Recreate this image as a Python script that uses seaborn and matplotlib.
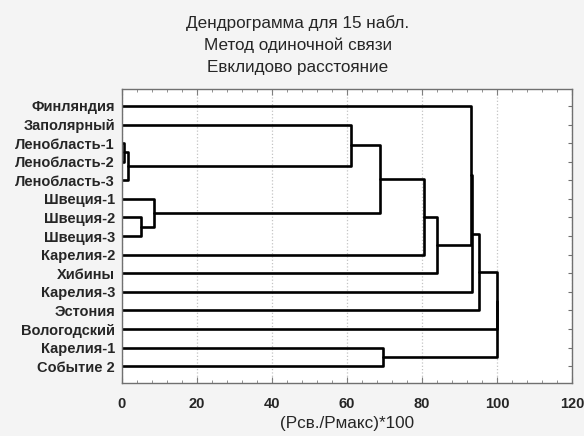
import numpy as np
import pandas as pd
import matplotlib
matplotlib.use('Agg')
import matplotlib.pyplot as plt
from matplotlib.ticker import MultipleLocator
import seaborn as sns

# leaves, top to bottom
leaf_labels = ['Финляндия', 'Заполярный', 'Ленобласть-1', 'Ленобласть-2',
               'Ленобласть-3', 'Швеция-1', 'Швеция-2', 'Швеция-3', 'Карелия-2',
               'Хибины', 'Карелия-3', 'Эстония', 'Вологодский', 'Карелия-1',
               'Событие 2']

# single linkage merges: (left node, right node, height); new nodes get ids 15, 16, ...
merge_left = [2, 15, 6, 5, 1, 19, 20, 21, 0, 23, 24, 13, 25, 27]
merge_right = [3, 4, 7, 17, 16, 18, 8, 9, 22, 10, 11, 14, 12, 26]
merge_height = [0.5, 1.7, 5.2, 8.6, 61.0, 68.8, 80.4, 83.9, 93.0, 93.4,
                95.3, 69.7, 99.9, 100.0]

x_ticks = [0, 20, 40, 60, 80, 100, 120]

sns.set_style('ticks')
plt.rcParams['font.family'] = ['Liberation Sans', 'DejaVu Sans']

# node positions -> one polyline per merge
n = len(leaf_labels)
ypos = {i: float(i) for i in range(n)}
hpos = {i: 0.0 for i in range(n)}
rows = []
for k, (a, b, h) in enumerate(zip(merge_left, merge_right, merge_height)):
    node = n + k
    pts = [(hpos[a], ypos[a]), (h, ypos[a]), (h, ypos[b]), (hpos[b], ypos[b])]
    for px, py in pts:
        rows.append({'x': px, 'y': py, 'seg': k})
    ypos[node] = (ypos[a] + ypos[b]) / 2
    hpos[node] = h
segs = pd.DataFrame(rows)

fig = plt.figure(figsize=(5.84, 4.36), dpi=100, facecolor='#f4f4f4')
ax = fig.add_axes([0.2089, 0.1216, 0.7706, 0.6743])
ax.set_facecolor('white')

sns.lineplot(data=segs, x='x', y='y', units='seg', estimator=None, sort=False,
             color='black', lw=1.9, ax=ax, legend=False)

ax.set_xlim(0, 120)
ax.set_ylim(n - 1 + 0.9, -0.91)
ax.set_xticks(x_ticks)
ax.xaxis.set_minor_locator(MultipleLocator(4))
ax.set_xticklabels([str(t) for t in x_ticks], fontweight='bold', fontsize=10.5)
ax.set_yticks(range(n))
ax.set_yticklabels(leaf_labels, fontweight='bold', fontsize=10.5)
ax.tick_params(axis='y', left=False, right=True, labelleft=True,
               direction='in', length=3, color='#707070', pad=5)
ax.tick_params(axis='x', which='both', top=True, bottom=True, direction='in',
               color='#808080', pad=10)
ax.tick_params(axis='x', which='major', length=4)
ax.tick_params(axis='x', which='minor', length=2.5)
ax.xaxis.grid(True, which='major', linestyle=':', color='#c4c4c4', lw=0.9)
for sp in ax.spines.values():
    sp.set_color('#707070')
    sp.set_linewidth(1.0)
ax.set_xlabel('(Рсв./Рмакс)*100', fontsize=12.3, labelpad=4)
ax.set_ylabel('')

fig.text(0.51, 0.947, 'Дендрограмма для 15 набл.', ha='center', va='center', fontsize=12.3)
fig.text(0.51, 0.897, 'Метод одиночной связи', ha='center', va='center', fontsize=12.3)
fig.text(0.51, 0.846, 'Евклидово расстояние', ha='center', va='center', fontsize=12.3)

fig.savefig('out.png', dpi=100, facecolor=fig.get_facecolor())
